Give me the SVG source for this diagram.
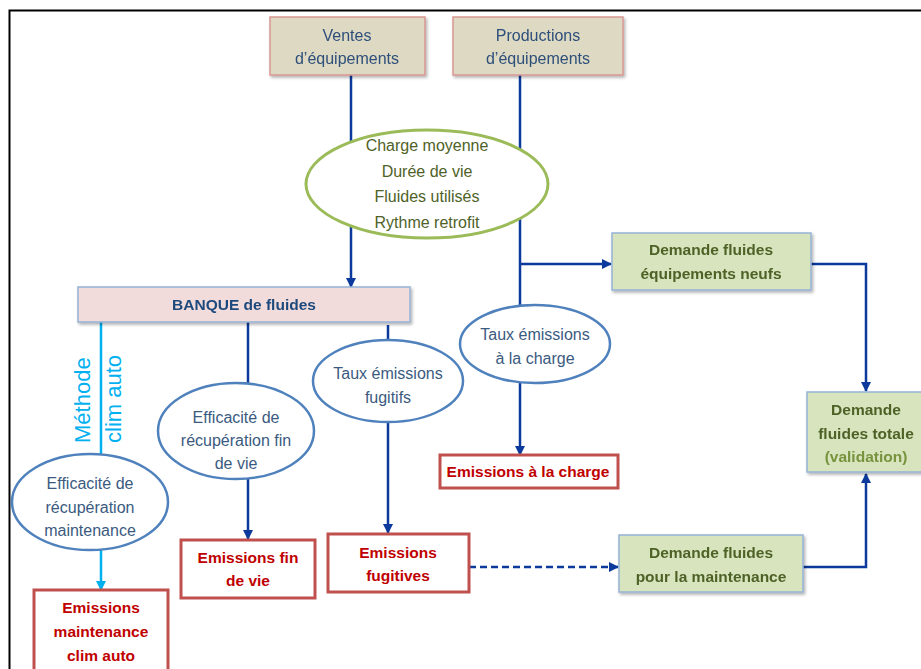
<svg xmlns="http://www.w3.org/2000/svg" width="921" height="669" viewBox="0 0 921 669">
<defs>
<marker id="ab" viewBox="0 0 10 10" refX="9" refY="5" markerWidth="10" markerHeight="10" markerUnits="userSpaceOnUse" orient="auto"><path d="M0,0 L10,5 L0,10 z" fill="#0b3a9c"/></marker>
<marker id="ac" viewBox="0 0 10 10" refX="9" refY="5" markerWidth="10" markerHeight="10" markerUnits="userSpaceOnUse" orient="auto"><path d="M0,0 L10,5 L0,10 z" fill="#00b0f0"/></marker>
<filter id="sh" x="-10%" y="-10%" width="130%" height="140%"><feDropShadow dx="1.5" dy="2" stdDeviation="1.5" flood-color="#000" flood-opacity="0.3"/></filter>
</defs>
<style>
text{font-family:"Liberation Sans",Arial,sans-serif;text-anchor:middle;dominant-baseline:central}
.src{fill:#ddd9c3;stroke:#d99694;stroke-width:1.5}
.srct{font-size:16px;fill:#2e4f7a}
.bank{fill:#f2dcdb;stroke:#95b3d7;stroke-width:1.5}
.bankt{font-size:15.5px;font-weight:bold;fill:#1f497d}
.ell{fill:#fff;stroke:#4f81bd;stroke-width:2.5}
.ellt{font-size:16px;fill:#3b5a80}
.gell{fill:#fff;stroke:#9bbb59;stroke-width:3}
.gellt{font-size:16px;fill:#4f6228}
.em{fill:#fff;stroke:#c0504d;stroke-width:3}
.emt{font-size:15.5px;font-weight:bold;fill:#c00000}
.dem{fill:#d7e4bd;stroke:#95b3d7;stroke-width:1.5}
.demt{font-size:15.5px;font-weight:bold;fill:#4f6228}
.c{fill:none;stroke:#0b3a9c;stroke-width:2.5}
.cc{fill:none;stroke:#00b0f0;stroke-width:2.5}
</style>
<rect width="921" height="669" fill="#fff"/>
<path d="M9.5,669 V10.5 H921" fill="none" stroke="#000" stroke-width="2"/>
<g id="connectors">
<path class="c" d="M351,75 V287" marker-end="url(#ab)"/>
<path class="c" d="M520,75 V306"/>
<path class="c" d="M520,264 H611" marker-end="url(#ab)"/>
<path class="c" d="M520,382 V455" marker-end="url(#ab)"/>
<path class="cc" d="M101,322 V455"/>
<path class="cc" d="M101,549 V590" marker-end="url(#ac)"/>
<path class="c" d="M248,322 V385"/>
<path class="c" d="M248,479 V539" marker-end="url(#ab)"/>
<path class="c" d="M388,325 V341"/>
<path class="c" d="M388,421 V533" marker-end="url(#ab)"/>
<path class="c" d="M469,567 H618" stroke-dasharray="7,4" marker-end="url(#ab)"/>
<path class="c" d="M803,567 H866 V474" marker-end="url(#ab)"/>
<path class="c" d="M811,264 H866 V391" marker-end="url(#ab)"/>
<text x="82" y="443" transform="rotate(-90 82 443)" style="text-anchor:start;font-size:22px;fill:#00b0f0">Méthode</text>
<text x="113" y="443" transform="rotate(-90 113 443)" style="text-anchor:start;font-size:22px;fill:#00b0f0">clim auto</text>
</g>
<g id="ventes" filter="url(#sh)"><rect class="src" x="270" y="17" width="155" height="58"/><text class="srct" x="347" y="35">Ventes</text><text class="srct" x="347" y="58">d’équipements</text></g>
<g id="productions" filter="url(#sh)"><rect class="src" x="453" y="17" width="170" height="58"/><text class="srct" x="538" y="35">Productions</text><text class="srct" x="538" y="58">d’équipements</text></g>
<g id="parametres"><ellipse class="gell" cx="427" cy="184" rx="121" ry="54"/><text class="gellt" x="427" y="145">Charge moyenne</text><text class="gellt" x="427" y="171">Durée de vie</text><text class="gellt" x="427" y="196">Fluides utilisés</text><text class="gellt" x="427" y="222">Rythme retrofit</text></g>
<g id="banque" filter="url(#sh)"><rect class="bank" x="78" y="287" width="332" height="35"/><text class="bankt" x="244" y="304">BANQUE de fluides</text></g>
<g id="eff-maintenance"><ellipse class="ell" cx="90" cy="502" rx="78" ry="48"/><text class="ellt" x="90" y="483">Efficacité de</text><text class="ellt" x="90" y="507">récupération</text><text class="ellt" x="90" y="530">maintenance</text></g>
<g id="eff-fin-vie"><ellipse class="ell" cx="236" cy="431" rx="78" ry="48"/><text class="ellt" x="236" y="417">Efficacité de</text><text class="ellt" x="236" y="440">récupération fin</text><text class="ellt" x="236" y="463">de vie</text></g>
<g id="taux-fugitifs"><ellipse class="ell" cx="388" cy="381" rx="75" ry="41"/><text class="ellt" x="388" y="373">Taux émissions</text><text class="ellt" x="388" y="397">fugitifs</text></g>
<g id="taux-charge"><ellipse class="ell" cx="535" cy="344" rx="75" ry="39"/><text class="ellt" x="535" y="334">Taux émissions</text><text class="ellt" x="535" y="358">à la charge</text></g>
<g id="em-charge"><rect class="em" x="440" y="455" width="178" height="33"/><text class="emt" x="528" y="471">Emissions à la charge</text></g>
<g id="em-maintenance"><rect class="em" x="34" y="590" width="134" height="90"/><text class="emt" x="101" y="607">Emissions</text><text class="emt" x="101" y="631">maintenance</text><text class="emt" x="101" y="655">clim auto</text></g>
<g id="em-fin-vie"><rect class="em" x="181" y="540" width="134" height="58"/><text class="emt" x="248" y="557">Emissions fin</text><text class="emt" x="248" y="580">de vie</text></g>
<g id="em-fugitives"><rect class="em" x="328" y="534" width="141" height="58"/><text class="emt" x="398" y="552">Emissions</text><text class="emt" x="398" y="575">fugitives</text></g>
<g id="dem-neufs" filter="url(#sh)"><rect class="dem" x="612" y="233" width="199" height="57"/><text class="demt" x="711" y="249">Demande fluides</text><text class="demt" x="711" y="273">équipements neufs</text></g>
<g id="dem-maintenance" filter="url(#sh)"><rect class="dem" x="619" y="535" width="184" height="57"/><text class="demt" x="711" y="552">Demande fluides</text><text class="demt" x="711" y="576">pour la maintenance</text></g>
<g id="dem-totale" filter="url(#sh)"><rect class="dem" x="807" y="392" width="116" height="80"/><text class="demt" x="866" y="409">Demande</text><text class="demt" x="866" y="433">fluides totale</text><text class="demt" x="866" y="456" style="fill:#77933c">(validation)</text></g>
</svg>
